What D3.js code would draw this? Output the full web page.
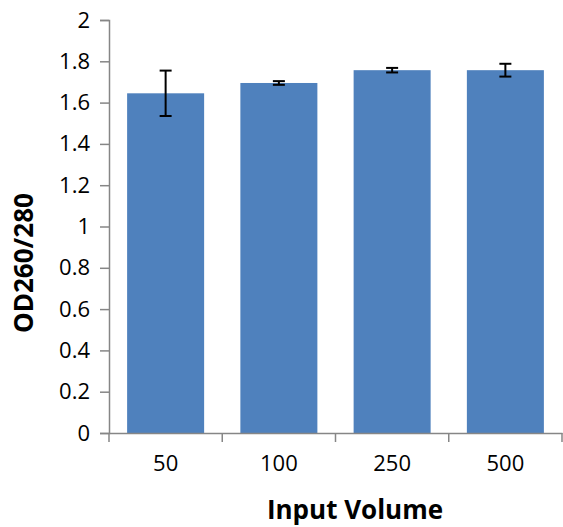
<!DOCTYPE html>
<html><head><meta charset="utf-8">
<script src="https://cdn.jsdelivr.net/npm/d3@7"></script>
<style>body{margin:0;background:#fff}</style>
</head><body>
<svg id="c" width="563" height="527"></svg>
<script>
const categories = ["50", "100", "250", "500"];
const values = [1.645, 1.695, 1.757, 1.757];
const errors = [0.11, 0.009, 0.011, 0.031];
const yTicks = [0, 0.2, 0.4, 0.6, 0.8, 1, 1.2, 1.4, 1.6, 1.8, 2];

const svg = d3.select("#c");
const font = "'Open Sans', sans-serif";
const x = d3.scaleBand().domain(categories).range([109, 562]).paddingInner(0.32).paddingOuter(0.16);
const y = d3.scaleLinear().domain([0, 2]).range([433, 20]);

svg.selectAll("rect.bar").data(categories).enter().append("rect")
  .attr("x", d => x(d)).attr("width", x.bandwidth())
  .attr("y", (d, i) => y(values[i])).attr("height", (d, i) => y(0) - y(values[i]))
  .attr("fill", "#4F81BD");

// y axis
const ya = svg.append("g").attr("transform", "translate(109,0)")
  .call(d3.axisLeft(y).tickValues(yTicks).tickFormat(d3.format("")).tickSize(9).tickPadding(10));
ya.select(".domain").attr("stroke", "#868686").attr("stroke-width", 1.5);
ya.selectAll(".tick line").attr("stroke", "#868686").attr("stroke-width", 1.5);
ya.selectAll("text").attr("font-family", font).attr("font-size", 22).attr("fill", "#000");

// x axis
const xa = svg.append("g").attr("transform", "translate(0,433)")
  .call(d3.axisBottom(x).tickSize(0).tickPadding(22));
xa.select(".domain").attr("stroke", "#868686").attr("stroke-width", 1.5);
xa.selectAll("text").attr("font-family", font).attr("font-size", 22).attr("fill", "#000");
const boundaries = categories.map(d => x(d) - x.step() * x.paddingInner() / 2);
boundaries[0] = 109;
boundaries.push(562);
xa.selectAll("line.bt").data(boundaries).enter().append("line").attr("class", "bt")
  .attr("x1", d => d).attr("x2", d => d).attr("y1", 0).attr("y2", 9)
  .attr("stroke", "#868686").attr("stroke-width", 1.5);

// error bars
const eb = svg.append("g").attr("stroke", "#000").attr("stroke-width", 2);
categories.forEach((c, i) => {
  const cx = x(c) + x.bandwidth() / 2;
  const t = y(values[i] + errors[i]), b = y(values[i] - errors[i]);
  eb.append("line").attr("x1", cx).attr("x2", cx).attr("y1", t).attr("y2", b);
  eb.append("line").attr("x1", cx - 6).attr("x2", cx + 6).attr("y1", t).attr("y2", t);
  eb.append("line").attr("x1", cx - 6).attr("x2", cx + 6).attr("y1", b).attr("y2", b);
});

svg.append("text").attr("x", 355).attr("y", 519).attr("text-anchor", "middle")
  .attr("font-family", font).attr("font-weight", "bold").attr("font-size", 26).text("Input Volume");
svg.append("text").attr("transform", "translate(33,263) rotate(-90)").attr("text-anchor", "middle")
  .attr("font-family", font).attr("font-weight", "bold").attr("font-size", 26).text("OD260/280");
</script>
</body></html>
